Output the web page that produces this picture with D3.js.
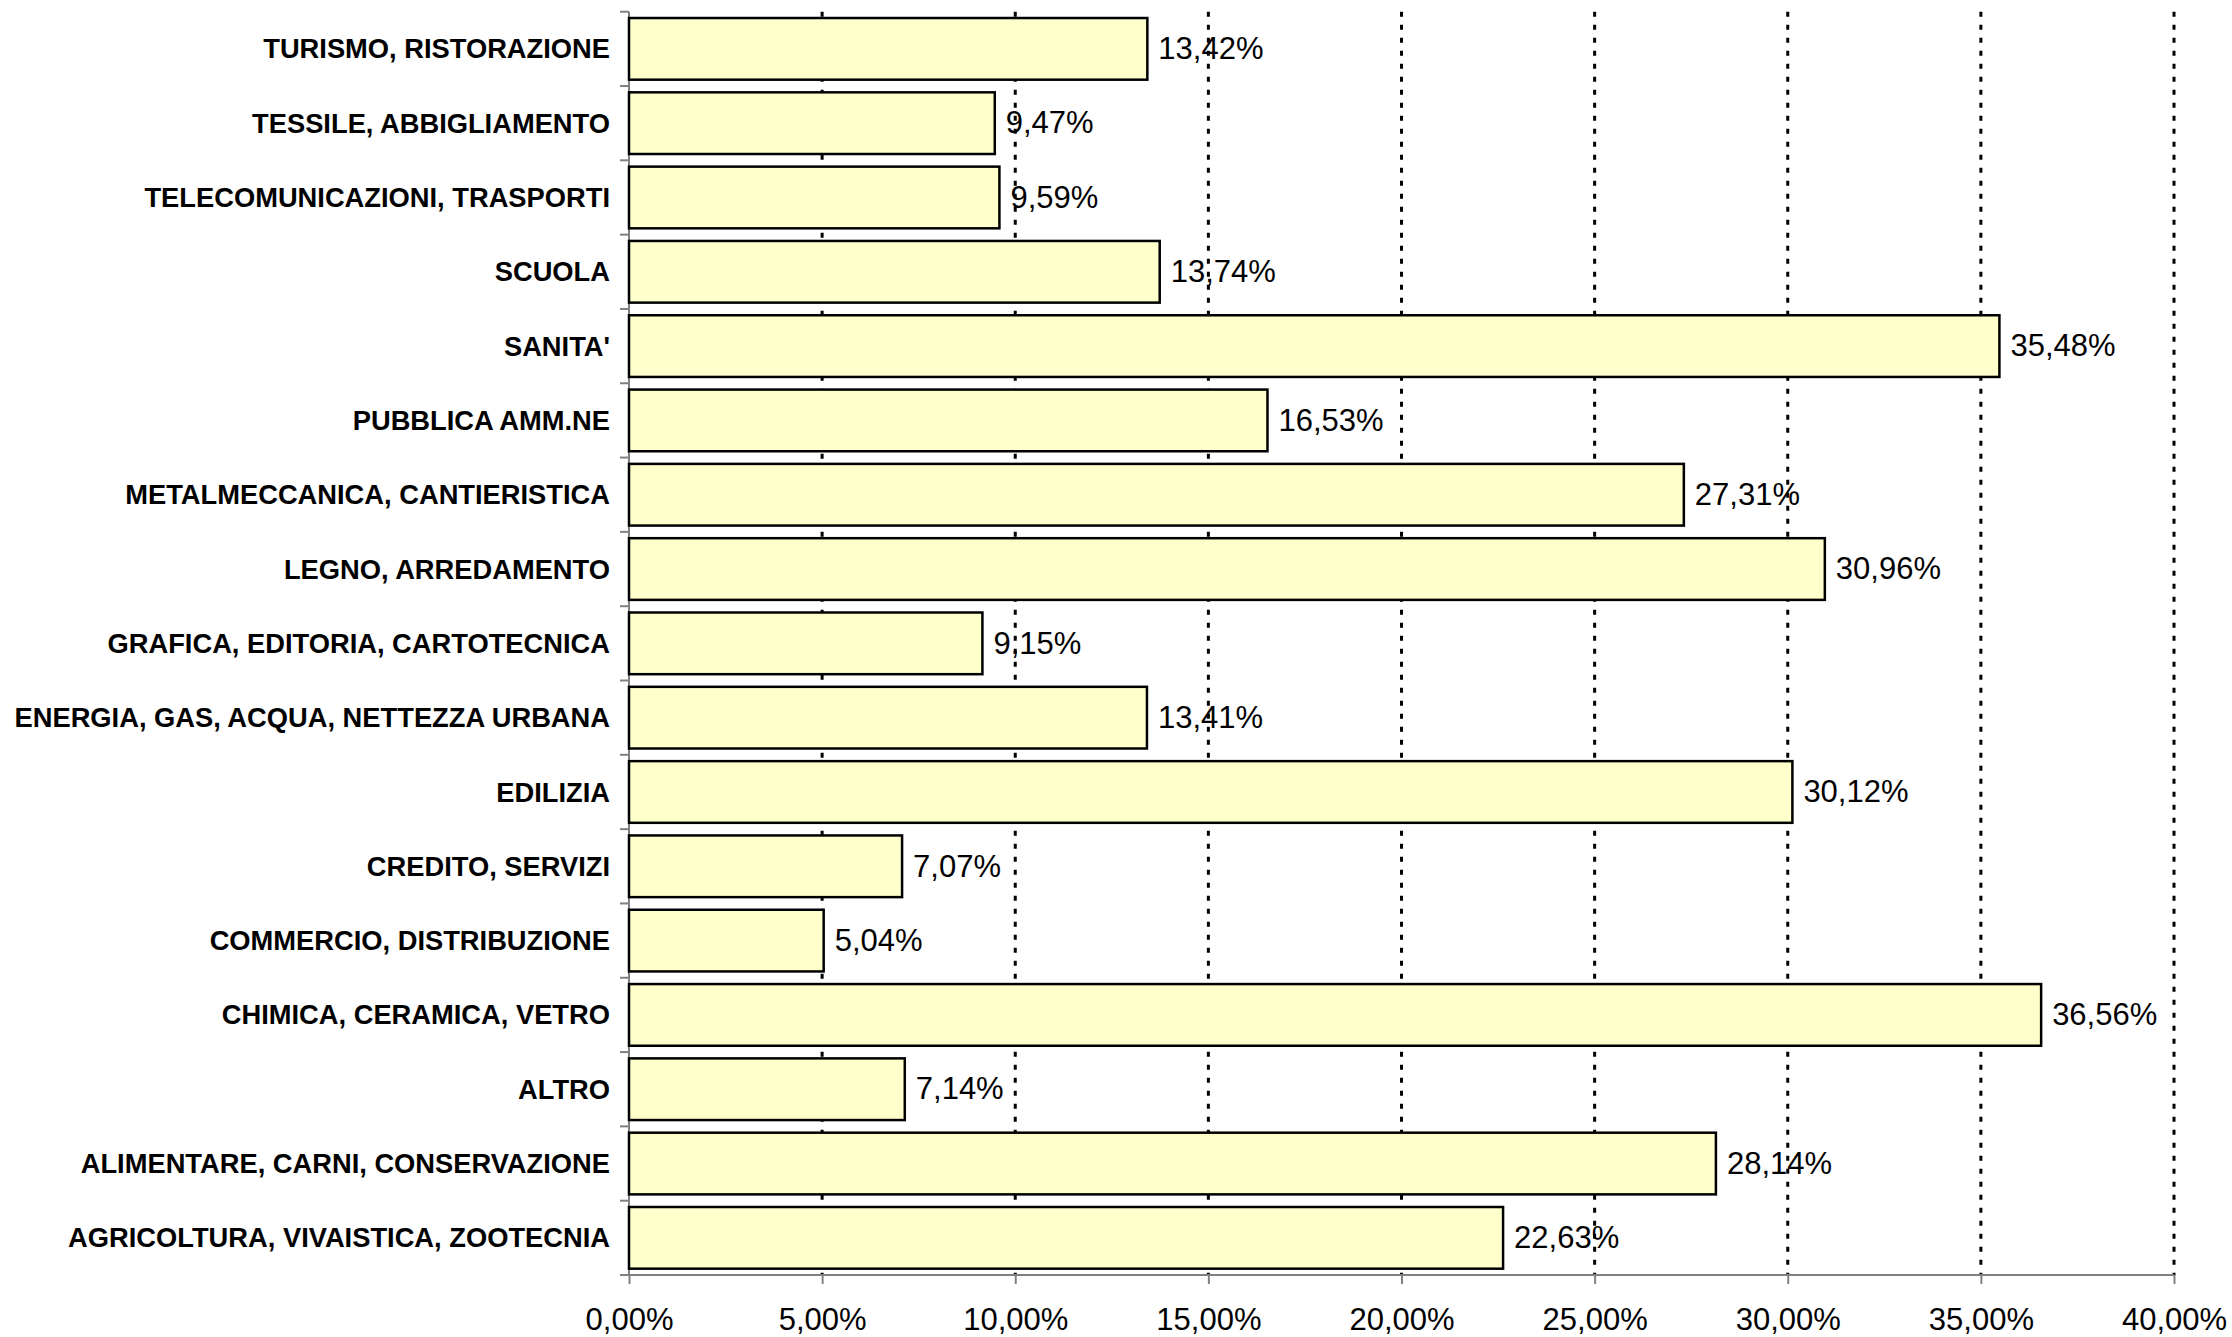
<!DOCTYPE html>
<html lang="it">
  <head>
    <meta charset="UTF-8" />
    <title>Settori</title>
    <style>
      body { margin: 0; background: #fff; }
      .chart text { font-family: 'Liberation Sans', Arial, sans-serif; fill: #000; }
    </style>
    <script src="https://cdn.jsdelivr.net/npm/d3@7"></script>
  </head>
  <body>
    <div class="chart"></div>
    <script>
      // categorie, dall'alto verso il basso
      var categories = [
        'TURISMO, RISTORAZIONE',
        'TESSILE, ABBIGLIAMENTO',
        'TELECOMUNICAZIONI, TRASPORTI',
        'SCUOLA',
        "SANITA'",
        'PUBBLICA AMM.NE',
        'METALMECCANICA, CANTIERISTICA',
        'LEGNO, ARREDAMENTO',
        'GRAFICA, EDITORIA, CARTOTECNICA',
        'ENERGIA, GAS, ACQUA, NETTEZZA URBANA',
        'EDILIZIA',
        'CREDITO, SERVIZI',
        'COMMERCIO, DISTRIBUZIONE',
        'CHIMICA, CERAMICA, VETRO',
        'ALTRO',
        'ALIMENTARE, CARNI, CONSERVAZIONE',
        'AGRICOLTURA, VIVAISTICA, ZOOTECNIA'
      ]
      var values = [13.42, 9.47, 9.59, 13.74, 35.48, 16.53, 27.31, 30.96, 9.15, 13.41, 30.12, 7.07, 5.04, 36.56, 7.14, 28.14, 22.63]
      var xTicks = [0, 5, 10, 15, 20, 25, 30, 35, 40]

      var W = 2232
      var H = 1337
      var plotLeft = 629
      var plotRight = 2174
      var plotTop = 11.7
      var plotBottom = 1275

      var fmt = (v) => v.toFixed(2).replace('.', ',') + '%'

      var svg = d3.select('.chart').append('svg').attr('width', W).attr('height', H)

      var xScale = d3.scaleLinear().domain([0, 40]).range([plotLeft, plotRight])
      var yScale = d3
        .scaleBand()
        .domain(categories)
        .range([plotTop, plotBottom])
        .paddingInner(0.17)
        .paddingOuter(0.085)

      // griglia tratteggiata
      svg
        .append('g')
        .selectAll('line')
        .data(xTicks.filter((t) => t > 0))
        .enter()
        .append('line')
        .attr('x1', (d) => xScale(d))
        .attr('x2', (d) => xScale(d))
        .attr('y1', plotTop)
        .attr('y2', plotBottom)
        .attr('stroke', '#000')
        .attr('stroke-width', 3)
        .attr('stroke-dasharray', '5,8')

      // asse x
      var xAxis = svg
        .append('g')
        .attr('transform', `translate(0, ${plotBottom})`)
        .call(d3.axisBottom(xScale).tickValues(xTicks).tickSize(9).tickPadding(24).tickFormat(fmt))
      xAxis.selectAll('path, line').attr('stroke', '#808080').attr('stroke-width', 2)
      xAxis.select('.domain').attr('d', `M${plotLeft - 9},0H${plotRight}`)
      xAxis.selectAll('text').style('font-size', '31px').style('font-family', "'Liberation Sans', Arial, sans-serif")

      // asse y: tacche ai bordi delle categorie
      var yAxis = svg.append('g').attr('transform', `translate(${plotLeft}, 0)`)
      yAxis.append('line').attr('y1', plotTop).attr('y2', plotBottom).attr('stroke', '#808080').attr('stroke-width', 2)
      var step = yScale.step()
      var edges = d3.range(categories.length + 1).map((i) => plotTop + i * step)
      yAxis
        .selectAll('.tk')
        .data(edges)
        .enter()
        .append('line')
        .attr('x1', -9)
        .attr('x2', 0)
        .attr('y1', (d) => d)
        .attr('y2', (d) => d)
        .attr('stroke', '#808080')
        .attr('stroke-width', 2)

      yAxis
        .selectAll('text')
        .data(categories)
        .enter()
        .append('text')
        .attr('x', -19)
        .attr('y', (d) => yScale(d) + yScale.bandwidth() / 2)
        .attr('dy', '0.35em')
        .attr('text-anchor', 'end')
        .style('font-size', '27.3px')
        .style('font-weight', 'bold')
        .text((d) => d)

      // barre
      var rows = categories.map((c, i) => ({ label: c, value: values[i] }))
      svg
        .append('g')
        .selectAll('rect')
        .data(rows)
        .enter()
        .append('rect')
        .attr('x', xScale(0))
        .attr('y', (d) => yScale(d.label))
        .attr('width', (d) => xScale(d.value) - xScale(0))
        .attr('height', yScale.bandwidth())
        .attr('fill', '#FFFFCC')
        .attr('stroke', '#000')
        .attr('stroke-width', 2.5)

      // etichette valori
      svg
        .append('g')
        .selectAll('text')
        .data(rows)
        .enter()
        .append('text')
        .attr('x', (d) => xScale(d.value) + 11)
        .attr('y', (d) => yScale(d.label) + yScale.bandwidth() / 2)
        .attr('dy', '0.33em')
        .style('font-size', '31px')
        .text((d) => fmt(d.value))
    </script>
  </body>
</html>
